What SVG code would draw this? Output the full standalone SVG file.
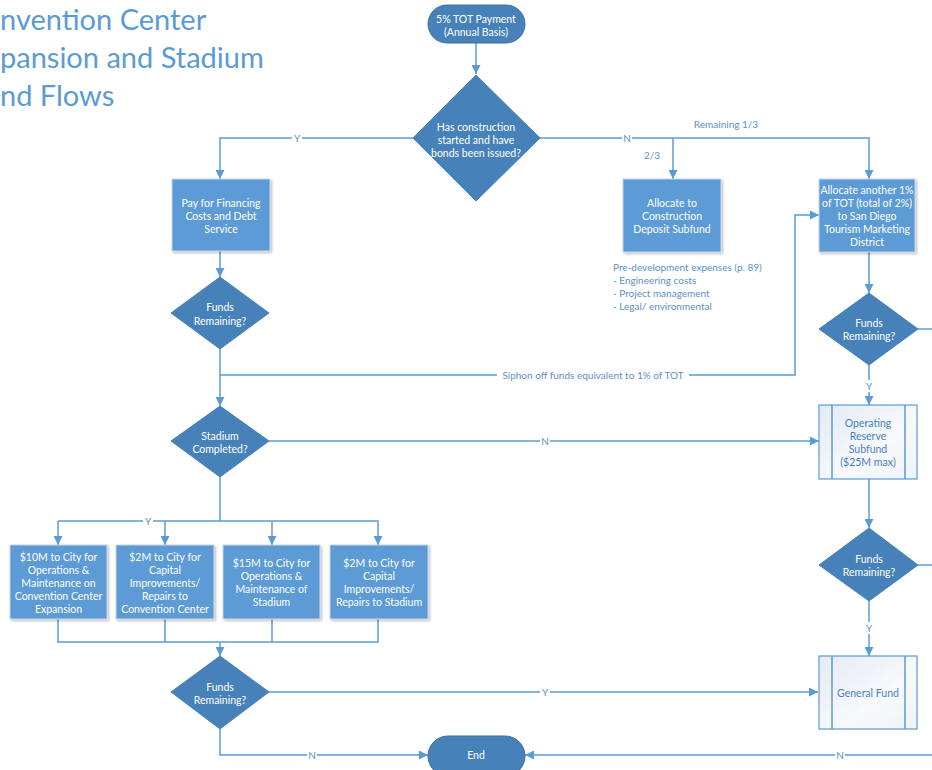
<svg xmlns="http://www.w3.org/2000/svg" width="932" height="770" viewBox="0 0 932 770">
<defs>
<marker id="ah" viewBox="0 0 10 10" refX="10" refY="5" markerWidth="9" markerHeight="9" markerUnits="userSpaceOnUse" orient="auto">
<path d="M0,0 L10,5 L0,10 z" fill="#5b9bd5"/>
</marker>
<linearGradient id="lg" x1="0" y1="0" x2="1" y2="1">
<stop offset="0" stop-color="#e4ebf4"/>
<stop offset="0.6" stop-color="#f7f9fc"/>
<stop offset="1" stop-color="#eef3f9"/>
</linearGradient>
<filter id="sh" x="-10%" y="-10%" width="130%" height="130%">
<feDropShadow dx="1.5" dy="1.5" stdDeviation="1.2" flood-color="#000" flood-opacity="0.25"/>
</filter>
<style>
text{font-family:Lato,"Liberation Sans",sans-serif;}
.t{fill:#fff;font-size:10.5px;text-anchor:middle;dominant-baseline:central;}
.b{fill:#4a7fbf;font-size:10.5px;text-anchor:middle;dominant-baseline:central;}
.lbl{fill:#5b8fc7;font-size:10px;text-anchor:middle;dominant-baseline:central;}
.note{fill:#5b8fc7;font-size:10px;}
.title{fill:#5b9bd5;font-size:29px;}
.rect{fill:#5b9bd5;stroke:#c9d6e6;stroke-width:1;filter:url(#sh);}
.dia{fill:#4682b9;stroke:#4682b9;}
.pill{fill:#4682b9;stroke:#3c6f9e;stroke-width:1;}
.sub{fill:url(#lg);stroke:#5b9bd5;stroke-width:1.2;}
.ln{fill:none;stroke:#5b9bd5;stroke-width:1.5;}
.bg{fill:#fff;}
</style>
</defs>

<g id="title">
<text class="title" x="0" y="30">nvention Center</text>
<text class="title" x="0" y="68">pansion and Stadium</text>
<text class="title" x="0" y="106">nd Flows</text>
</g>

<g id="connectors">
<path class="ln" d="M476,43 V74" marker-end="url(#ah)"/>
<path class="ln" d="M413,138 H220 V179" marker-end="url(#ah)"/>
<path class="ln" d="M540,138 H869 V179" marker-end="url(#ah)"/>
<path class="ln" d="M673,138 V179" marker-end="url(#ah)"/>
<path class="ln" d="M220,251 V277" marker-end="url(#ah)"/>
<path class="ln" d="M220,349 V406" marker-end="url(#ah)"/>
<path class="ln" d="M220,375 H795 V215 H819" marker-end="url(#ah)"/>
<path class="ln" d="M869,252 V293" marker-end="url(#ah)"/>
<path class="ln" d="M918,329 H932"/>
<path class="ln" d="M869,365 V405" marker-end="url(#ah)"/>
<path class="ln" d="M269,441 H819" marker-end="url(#ah)"/>
<path class="ln" d="M869,479 V528" marker-end="url(#ah)"/>
<path class="ln" d="M918,565 H932"/>
<path class="ln" d="M869,601 V656" marker-end="url(#ah)"/>
<path class="ln" d="M220,477 V521"/>
<path class="ln" d="M58,521 H378 V545" marker-end="url(#ah)"/>
<path class="ln" d="M58,521 V545" marker-end="url(#ah)"/>
<path class="ln" d="M165,521 V545" marker-end="url(#ah)"/>
<path class="ln" d="M272,521 V545" marker-end="url(#ah)"/>
<path class="ln" d="M58,619 V642 H378 V619"/>
<path class="ln" d="M165,619 V642"/>
<path class="ln" d="M272,619 V642"/>
<path class="ln" d="M220,642 V656" marker-end="url(#ah)"/>
<path class="ln" d="M269,692 H818" marker-end="url(#ah)"/>
<path class="ln" d="M220,729 V755 H428" marker-end="url(#ah)"/>
<path class="ln" d="M932,755 H525" marker-end="url(#ah)"/>
<rect class="bg" x="292" y="132" width="10" height="12"/>
<text class="lbl" x="297" y="138">Y</text>
<rect class="bg" x="622" y="132" width="10" height="12"/>
<text class="lbl" x="627" y="138">N</text>
<text class="lbl" x="652" y="155">2/3</text>
<text class="lbl" x="726" y="124">Remaining 1/3</text>
<rect class="bg" x="497" y="369" width="192" height="12"/>
<text class="lbl" x="593" y="375">Siphon off funds equivalent to 1% of TOT</text>
<rect class="bg" x="864" y="380" width="10" height="12"/>
<text class="lbl" x="869" y="386">Y</text>
<rect class="bg" x="540" y="435" width="10" height="12"/>
<text class="lbl" x="545" y="441">N</text>
<rect class="bg" x="143" y="515" width="10" height="12"/>
<text class="lbl" x="148" y="521">Y</text>
<rect class="bg" x="864" y="622" width="10" height="12"/>
<text class="lbl" x="869" y="628">Y</text>
<rect class="bg" x="540" y="686" width="10" height="12"/>
<text class="lbl" x="545" y="692">Y</text>
<rect class="bg" x="307" y="749" width="10" height="12"/>
<text class="lbl" x="312" y="755">N</text>
<rect class="bg" x="835" y="749" width="10" height="12"/>
<text class="lbl" x="840" y="755">N</text>
</g>

<g id="start">
<rect class="pill" x="428" y="5" width="97" height="38" rx="19"/>
<text class="t" x="476" y="19">5% TOT Payment</text>
<text class="t" x="476" y="32">(Annual Basis)</text>
</g>

<g id="d-construction">
<path class="dia" d="M476,75 L540,138 L476,201 L413,138 Z"/>
<text class="t" x="476" y="127">Has construction</text>
<text class="t" x="476" y="140">started and have</text>
<text class="t" x="476" y="153">bonds been issued?</text>
</g>

<g id="pay">
<rect class="rect" x="172" y="179" width="98" height="72"/>
<text class="t" x="221" y="203">Pay for Financing</text>
<text class="t" x="221" y="216">Costs and Debt</text>
<text class="t" x="221" y="229">Service</text>
</g>

<g id="d-funds1">
<path class="dia" d="M220,277 L269,313 L220,349 L171,313 Z"/>
<text class="t" x="220" y="307">Funds</text>
<text class="t" x="220" y="321">Remaining?</text>
</g>

<g id="construction-deposit">
<rect class="rect" x="623" y="179" width="98" height="73"/>
<text class="t" x="672" y="203">Allocate to</text>
<text class="t" x="672" y="216">Construction</text>
<text class="t" x="672" y="229">Deposit Subfund</text>
</g>

<g id="predev-note">
<text class="note" x="613" y="271">Pre-development expenses (p. 89)</text>
<text class="note" x="613" y="284">- Engineering costs</text>
<text class="note" x="613" y="297">- Project management</text>
<text class="note" x="613" y="310">- Legal/ environmental</text>
</g>

<g id="tourism">
<rect class="rect" x="819" y="179" width="96" height="73"/>
<text class="t" x="867" y="190">Allocate another 1%</text>
<text class="t" x="867" y="203">of TOT (total of 2%)</text>
<text class="t" x="867" y="216">to San Diego</text>
<text class="t" x="867" y="229">Tourism Marketing</text>
<text class="t" x="867" y="242">District</text>
</g>

<g id="d-funds-r1">
<path class="dia" d="M869,293 L918,329 L869,365 L819,329 Z"/>
<text class="t" x="869" y="323">Funds</text>
<text class="t" x="869" y="336">Remaining?</text>
</g>

<g id="operating-reserve">
<rect class="sub" x="819" y="405" width="98" height="74"/>
<path class="ln" d="M832,405 V479 M905,405 V479" stroke-width="1.2"/>
<text class="b" x="868" y="423">Operating</text>
<text class="b" x="868" y="436">Reserve</text>
<text class="b" x="868" y="449">Subfund</text>
<text class="b" x="868" y="462">($25M max)</text>
</g>

<g id="d-stadium">
<path class="dia" d="M220,406 L269,441 L220,477 L171,441 Z"/>
<text class="t" x="220" y="436">Stadium</text>
<text class="t" x="220" y="449">Completed?</text>
</g>

<g id="d-funds-r2">
<path class="dia" d="M869,528 L918,565 L869,601 L819,565 Z"/>
<text class="t" x="869" y="559">Funds</text>
<text class="t" x="869" y="572">Remaining?</text>
</g>

<g id="box-cc-om">
<rect class="rect" x="10" y="545" width="97" height="74"/>
<text class="t" x="58.5" y="557">$10M to City for</text>
<text class="t" x="58.5" y="570">Operations &amp;</text>
<text class="t" x="58.5" y="583">Maintenance on</text>
<text class="t" x="58.5" y="596">Convention Center</text>
<text class="t" x="58.5" y="609">Expansion</text>
</g>

<g id="box-cc-cap">
<rect class="rect" x="116" y="545" width="98" height="74"/>
<text class="t" x="165" y="557">$2M to City for</text>
<text class="t" x="165" y="570">Capital</text>
<text class="t" x="165" y="583">Improvements/</text>
<text class="t" x="165" y="596">Repairs to</text>
<text class="t" x="165" y="609">Convention Center</text>
</g>

<g id="box-st-om">
<rect class="rect" x="223" y="545" width="97" height="74"/>
<text class="t" x="271.5" y="563">$15M to City for</text>
<text class="t" x="271.5" y="576">Operations &amp;</text>
<text class="t" x="271.5" y="589">Maintenance of</text>
<text class="t" x="271.5" y="602">Stadium</text>
</g>

<g id="box-st-cap">
<rect class="rect" x="330" y="545" width="98" height="74"/>
<text class="t" x="379" y="563">$2M to City for</text>
<text class="t" x="379" y="576">Capital</text>
<text class="t" x="379" y="589">Improvements/</text>
<text class="t" x="379" y="602">Repairs to Stadium</text>
</g>

<g id="d-funds-bottom">
<path class="dia" d="M220,656 L269,692 L220,729 L171,692 Z"/>
<text class="t" x="220" y="687">Funds</text>
<text class="t" x="220" y="700">Remaining?</text>
</g>

<g id="general-fund">
<rect class="sub" x="819" y="656" width="98" height="73"/>
<path class="ln" d="M832,656 V729 M905,656 V729" stroke-width="1.2"/>
<text class="b" x="868" y="693">General Fund</text>
</g>

<g id="end">
<rect class="pill" x="428" y="736" width="97" height="40" rx="20"/>
<text class="t" x="476" y="755">End</text>
</g>
</svg>
